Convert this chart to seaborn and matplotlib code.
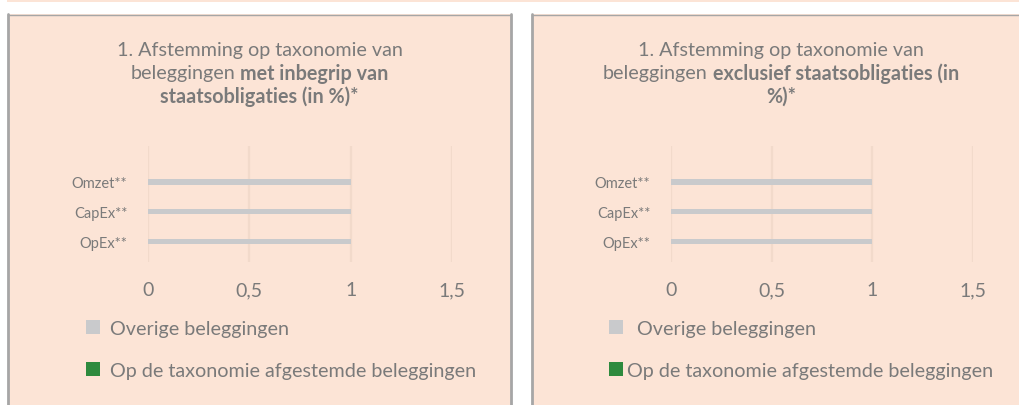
import numpy as np
import pandas as pd
import matplotlib
matplotlib.use('Agg')
import matplotlib.pyplot as plt
import seaborn as sns
from matplotlib.patches import Rectangle, Patch
from matplotlib.lines import Line2D

# data: share of investments per KPI (the whole lot is "overige")
categorieen = ['Omzet**', 'CapEx**', 'OpEx**']
overige = [1, 1, 1]
afgestemd = [0, 0, 0]
reeksen = ['Overige beleggingen', 'Op de taxonomie afgestemde beleggingen']
xticks = [0, 0.5, 1, 1.5]
xtick_labels = ['0', '0,5', '1', '1,5']

titels = [
    [[('1. Afstemming op taxonomie van', 'normal')],
     [('beleggingen', 'normal'), ('met inbegrip van', 'bold')],
     [('staatsobligaties (in %)*', 'bold')]],
    [[('1. Afstemming op taxonomie van', 'normal')],
     [('beleggingen', 'normal'), ('exclusief staatsobligaties (in', 'bold')],
     [('%)*', 'bold')]],
]

W, H = 1019, 406
PEACH = '#FCE4D6'
BORDER = '#A6A6A6'
TXT = '#7A7A7A'
GREY_BAR = '#C9CACC'
GREEN = '#2E8A3E'

sns.set_theme(style='white')
plt.rcParams['font.family'] = ['Lato', 'DejaVu Sans']

fig = plt.figure(figsize=(W / 100, H / 100), dpi=100)
fig.patch.set_facecolor('white')


def fx(x):
    return x / W


def fy(y):
    return 1 - y / H


# top strip and the two panels (kept behind the axes)
fig.patches.append(Rectangle((fx(7), fy(2.5)), fx(W - 7), 2.5 / H,
                             transform=fig.transFigure, facecolor=PEACH,
                             edgecolor='none', zorder=-3))
for left, right in [(8, 511), (532, W + 20)]:
    fig.patches.append(Rectangle((fx(left), 0), fx(right - left), fy(15),
                                 transform=fig.transFigure, facecolor=PEACH,
                                 edgecolor='none', zorder=-3))
    fig.lines.append(Line2D([fx(left), fx(right)], [fy(15.5), fy(15.5)],
                            transform=fig.transFigure, color=BORDER, lw=1, zorder=-2))
    fig.lines.append(Line2D([fx(left), fx(left)], [0, fy(15)],
                            transform=fig.transFigure, color=BORDER, lw=2, zorder=-2))
    if right < W:
        fig.lines.append(Line2D([fx(right), fx(right)], [0, fy(15)],
                                transform=fig.transFigure, color=BORDER, lw=2, zorder=-2))

renderer = fig.canvas.get_renderer()


def text_width(s, weight, size):
    t = fig.text(0, 0, s, fontsize=size, fontweight=weight)
    w = t.get_window_extent(renderer).width
    t.remove()
    return w


def title_line(cx, cy, parts, size=14.2):
    space = text_width('x x', 'normal', size) - text_width('xx', 'normal', size)
    widths = [text_width(s, wgt, size) for s, wgt in parts]
    total = sum(widths) + space * (len(parts) - 1)
    x = cx - total / 2
    for (s, wgt), w in zip(parts, widths):
        fig.text(fx(x), fy(cy), s, fontsize=size, fontweight=wgt,
                 color=TXT, ha='left', va='center')
        x += w + space


df = pd.DataFrame({
    'categorie': categorieen * 2,
    'waarde': overige + afgestemd,
    'reeks': [reeksen[0]] * 3 + [reeksen[1]] * 3,
})

panels = [
    dict(cx=259.5, ax_left=148, ax_right=452, leg_x=86, pad=0.5, lab0=reeksen[0]),
    dict(cx=781, ax_left=671, ax_right=973, leg_x=609, pad=0.2, lab0='  ' + reeksen[0]),
]

for p, titel in zip(panels, titels):
    for i, line in enumerate(titel):
        title_line(p['cx'], 50.5 + i * 23, line)

    ax = fig.add_axes([fx(p['ax_left']), fy(263), fx(p['ax_right'] - p['ax_left']),
                       (263 - 147) / H])
    ax.set_facecolor('none')
    sns.barplot(data=df, y='categorie', x='waarde', hue='reeks', dodge=False,
                order=categorieen, hue_order=reeksen,
                palette=[GREY_BAR, GREEN], width=0.17, legend=False,
                edgecolor='none', linewidth=0, ax=ax)
    ax.set_xlim(0, 1.5)
    ax.set_ylim(2.67, -1.2)
    ax.set_xticks(xticks)
    ax.set_xticklabels(xtick_labels)
    for xv in xticks:
        ax.axvline(xv, color='#F2DACB', lw=1.6, zorder=0)
    for s in ax.spines.values():
        s.set_visible(False)
    ax.tick_params(axis='x', length=0, pad=14, labelsize=14, labelcolor=TXT)
    ax.tick_params(axis='y', length=0, pad=15, labelsize=10.5, labelcolor=TXT)
    ax.set_xlabel('')
    ax.set_ylabel('')

    handles = [Patch(facecolor=GREY_BAR, edgecolor='none'),
               Patch(facecolor=GREEN, edgecolor='none')]
    leg = ax.legend(handles, [p['lab0'], reeksen[1]], loc='upper left',
                    bbox_to_anchor=(fx(p['leg_x']), fy(321)),
                    bbox_transform=fig.transFigure, frameon=False,
                    fontsize=14.2, handlelength=0.7, handleheight=0.7,
                    handletextpad=p['pad'], labelspacing=1.25,
                    borderaxespad=0, borderpad=0)
    for t in leg.get_texts():
        t.set_color(TXT)

fig.savefig('out.png', dpi=100)
